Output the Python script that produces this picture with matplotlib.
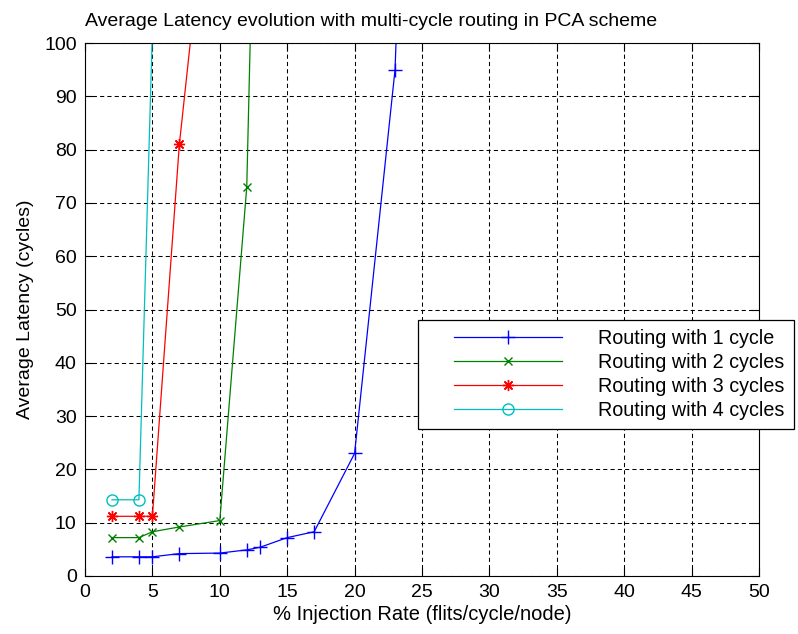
import matplotlib
matplotlib.use("Agg")
import matplotlib.pyplot as plt
from matplotlib.legend_handler import HandlerLine2D

# injection rate (%) and average latency (cycles) for each routing variant
rate_1 = [2, 4, 5, 7, 10, 12, 13, 15, 17, 20, 23, 24]
lat_1 = [3.6, 3.6, 3.6, 4.2, 4.3, 4.9, 5.4, 7.2, 8.3, 23, 95, 165]
rate_2 = [2, 4, 5, 7, 10, 12, 13]
lat_2 = [7.2, 7.2, 8.3, 9.2, 10.4, 73, 180]
rate_3 = [2, 4, 5, 7, 9]
lat_3 = [11.2, 11.2, 11.2, 81, 128]
rate_4 = [2, 4, 5.2]
lat_4 = [14.3, 14.3, 120]

labels = ["Routing with 1 cycle", "Routing with 2 cycles",
          "Routing with 3 cycles", "Routing with 4 cycles"]
x_ticks = list(range(0, 51, 5))
y_ticks = list(range(0, 101, 10))

plt.rcParams['font.family'] = ['Liberation Sans', 'DejaVu Sans']


class PaddedLine(HandlerLine2D):
    # legend line starts a bit to the right, like the MATLAB legend
    def get_xdata(self, legend, xdescent, ydescent, width, height, fontsize):
        lead = 0.2 * width
        xs = [-xdescent + lead, -xdescent + width]
        return xs, [0.5 * (xs[0] + xs[1])]


fig = plt.figure(figsize=(7.98, 6.34), dpi=100)
ax = fig.add_axes([85 / 798, 58 / 634, 674 / 798, 533 / 634])

lines = []
lines += ax.plot(rate_1, lat_1, color=(0, 0, 1), marker='+', ms=10, mew=1.0, lw=0.9)
lines += ax.plot(rate_2, lat_2, color=(0, 0.5, 0), marker='x', ms=6, mew=1.0, lw=0.9)
lines += ax.plot(rate_3, lat_3, color=(1, 0, 0), marker=(8, 2, 0), ms=8, mew=1.0, lw=0.9)
lines += ax.plot(rate_4, lat_4, color=(0, 0.75, 0.75), marker='o', ms=8, mew=1.0,
                 mfc='none', lw=0.9)

ax.set_xlim(0, 50)
ax.set_ylim(0, 100)
ax.set_xticks(x_ticks)
ax.set_yticks(y_ticks)
ax.grid(True, color='black', linestyle=(0, (4, 3)), linewidth=0.75)
ax.tick_params(direction='in', length=6, width=0.8, top=True, right=True,
               labelsize=14)
ax.tick_params(axis='x', pad=6)
ax.tick_params(axis='y', pad=6)
for s in ax.spines.values():
    s.set_linewidth(0.8)

ax.set_xlabel("% Injection Rate (flits/cycle/node)", fontsize=14.5, labelpad=3)
ax.set_ylabel("Average Latency (cycles)", fontsize=14, labelpad=7)
ax.set_title("Average Latency evolution with multi-cycle routing in PCA scheme",
             fontsize=14, loc='left', pad=12)

leg = fig.legend(lines, labels, loc='upper left',
                 bbox_to_anchor=(418 / 798, 1 - 320 / 634), borderaxespad=0,
                 fontsize=14.2, handlelength=6.85, handletextpad=1.85,
                 borderpad=0.45, labelspacing=0.26, fancybox=False,
                 framealpha=1, edgecolor='black',
                 handler_map={matplotlib.lines.Line2D: PaddedLine(numpoints=1)})
leg.get_frame().set_linewidth(0.9)

fig.savefig("out.png", dpi=100)
